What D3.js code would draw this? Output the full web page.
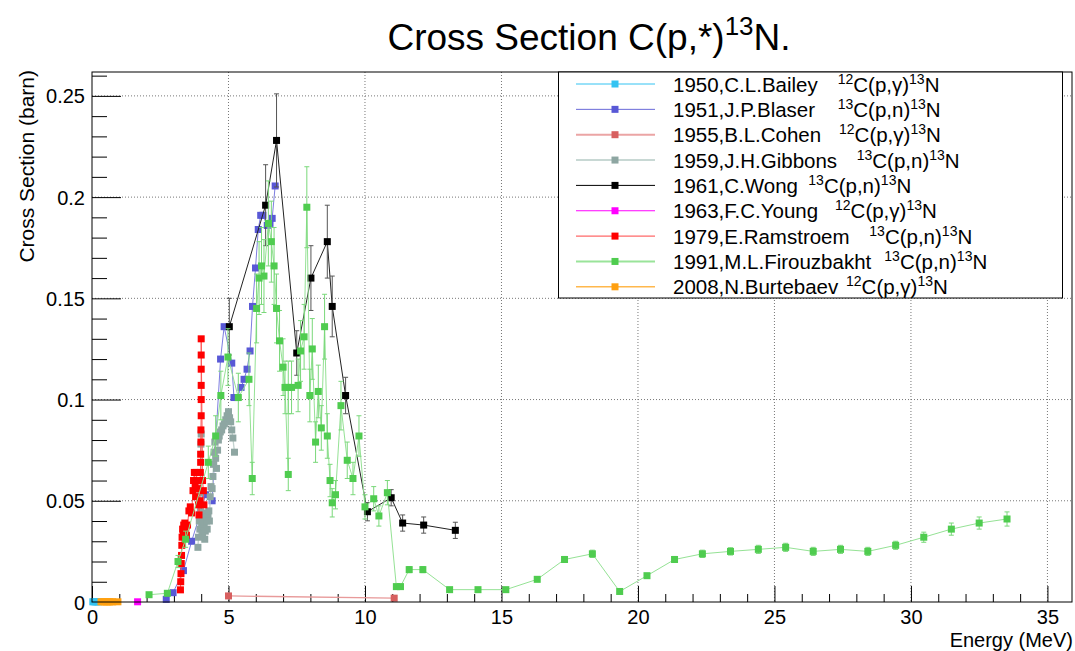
<!DOCTYPE html>
<html>
<head>
<meta charset="utf-8">
<script src="https://cdn.jsdelivr.net/npm/d3@7"></script>
<style>
  body { margin: 0; background: #fff; }
  svg { display: block; font-family: "Liberation Sans", Arial, Helvetica, sans-serif; }
</style>
</head>
<body>
<svg id="chart" width="1075" height="651"></svg>
<script>
// ---------- DATA ----------
const xTicks = [0, 5, 10, 15, 20, 25, 30, 35];
const yTicks = [0, 0.05, 0.1, 0.15, 0.2, 0.25];
const yTickLabels = ["0", "0.05", "0.1", "0.15", "0.2", "0.25"];

// [energy MeV, cross section barn]
const bailey = [[0.03, 0.0001], [0.08, 0.0001], [0.13, 0.0001], [0.18, 0.0001], [0.23, 0.0001]];
const blaser = [[2.72, 0.0013], [2.97, 0.0046], [3.35, 0.0155], [3.65, 0.030], [3.95, 0.043], [4.16, 0.053],
  [4.40, 0.050], [4.71, 0.120], [4.84, 0.136], [5.12, 0.118], [5.20, 0.101], [5.33, 0.101], [5.46, 0.106],
  [5.57, 0.110], [5.68, 0.115], [5.79, 0.124], [5.88, 0.146], [5.99, 0.165], [6.09, 0.184], [6.18, 0.191],
  [6.26, 0.191], [6.42, 0.186], [6.52, 0.187], [6.60, 0.1895], [6.71, 0.2055]];
const cohen = [[5.0, 0.0030], [11.07, 0.0019]];
const gibbons = [[3.88, 0.027], [3.90, 0.032], [3.93, 0.040], [3.95, 0.036], [3.97, 0.045], [3.98, 0.054],
  [3.99, 0.078], [4.00, 0.083], [4.02, 0.038], [4.05, 0.034], [4.08, 0.041], [4.10, 0.037], [4.13, 0.031],
  [4.15, 0.035], [4.18, 0.044], [4.20, 0.040], [4.22, 0.036], [4.25, 0.042], [4.28, 0.045], [4.30, 0.040],
  [4.33, 0.052], [4.36, 0.057], [4.40, 0.056], [4.43, 0.062], [4.45, 0.068], [4.47, 0.074], [4.50, 0.079],
  [4.53, 0.071], [4.56, 0.066], [4.60, 0.075], [4.63, 0.080], [4.66, 0.082], [4.70, 0.084], [4.75, 0.085],
  [4.80, 0.087], [4.85, 0.088], [4.90, 0.090], [4.95, 0.092], [5.00, 0.094], [5.04, 0.091], [5.08, 0.089],
  [5.12, 0.085], [5.16, 0.081], [5.22, 0.074]];
// [energy, value, error]
const wong = [[5.03, 0.136, 0.014], [6.36, 0.196, 0.020], [6.76, 0.228, 0.023], [7.50, 0.123, 0.011],
  [8.02, 0.160, 0.016], [8.62, 0.178, 0.018], [8.80, 0.146, 0.015], [9.29, 0.102, 0.009],
  [10.09, 0.0446, 0.0045], [10.96, 0.0515, 0.004], [11.38, 0.039, 0.004], [12.15, 0.038, 0.004],
  [13.31, 0.0354, 0.004]];
const young = [[1.67, 0.0001]];
const ramstroem = [[3.24, 0.006], [3.25, 0.010], [3.26, 0.014], [3.27, 0.019], [3.28, 0.023], [3.29, 0.028],
  [3.30, 0.032], [3.32, 0.036], [3.34, 0.034], [3.36, 0.038], [3.38, 0.036], [3.40, 0.039], [3.42, 0.035],
  [3.44, 0.037], [3.46, 0.033], [3.50, 0.038], [3.55, 0.045], [3.60, 0.047], [3.65, 0.044], [3.70, 0.055],
  [3.72, 0.060], [3.75, 0.064], [3.78, 0.058], [3.80, 0.052], [3.82, 0.064], [3.85, 0.060], [3.87, 0.056],
  [3.90, 0.048], [3.92, 0.043], [3.95, 0.050], [3.97, 0.064], [3.98, 0.069], [3.98, 0.073], [3.99, 0.079],
  [3.99, 0.085], [4.00, 0.092], [4.00, 0.100], [4.00, 0.107], [4.00, 0.115], [4.00, 0.122], [4.00, 0.130],
  [4.05, 0.060], [4.08, 0.055], [4.10, 0.048]];
const firouzbakht = [[2.09, 0.0036, 0.0005], [2.76, 0.0043, 0.0005], [3.15, 0.020, 0.003], [3.43, 0.031, 0.004],
  [4.26, 0.069, 0.008], [4.53, 0.082, 0.010], [4.72, 0.102, 0.012], [4.98, 0.121, 0.014], [5.36, 0.101, 0.012],
  [5.75, 0.110, 0.013], [5.87, 0.061, 0.008], [6.03, 0.145, 0.017], [6.12, 0.160, 0.018], [6.21, 0.166, 0.019],
  [6.30, 0.161, 0.018], [6.46, 0.187, 0.021], [6.57, 0.178, 0.020], [6.67, 0.166, 0.019], [6.76, 0.145, 0.017],
  [6.87, 0.129, 0.015], [7.00, 0.116, 0.014], [7.07, 0.106, 0.013], [7.19, 0.063, 0.008], [7.19, 0.106, 0.013],
  [7.31, 0.106, 0.013], [7.55, 0.107, 0.013], [7.64, 0.124, 0.015], [7.77, 0.131, 0.016], [7.87, 0.195, 0.020],
  [7.98, 0.102, 0.013], [8.07, 0.125, 0.015], [8.19, 0.079, 0.010], [8.29, 0.104, 0.013], [8.40, 0.086, 0.011],
  [8.52, 0.136, 0.016], [8.62, 0.082, 0.011], [8.72, 0.060, 0.008], [8.80, 0.049, 0.007], [8.92, 0.053, 0.007],
  [9.12, 0.097, 0.012], [9.35, 0.070, 0.009], [9.56, 0.061, 0.008], [9.78, 0.082, 0.010], [10.00, 0.047, 0.006],
  [10.32, 0.051, 0.006], [10.51, 0.0425, 0.005], [10.82, 0.054, 0.006], [11.15, 0.0076, 0.001],
  [11.30, 0.0076, 0.001], [11.62, 0.016, 0.0015], [12.12, 0.016, 0.0015], [13.10, 0.0061, 0.0008],
  [14.14, 0.0061, 0.0008], [15.16, 0.0061, 0.0008], [16.31, 0.0112, 0.001], [17.31, 0.021, 0.0015],
  [18.33, 0.0238, 0.0018], [19.33, 0.0052, 0.0008], [20.33, 0.013, 0.001], [21.34, 0.021, 0.0015],
  [22.36, 0.0238, 0.0018], [23.39, 0.025, 0.0018], [24.41, 0.026, 0.002], [25.41, 0.027, 0.002],
  [26.42, 0.025, 0.002], [27.42, 0.026, 0.002], [28.42, 0.025, 0.002], [29.44, 0.028, 0.002],
  [30.47, 0.032, 0.0025], [31.48, 0.036, 0.003], [32.50, 0.039, 0.003], [33.52, 0.041, 0.0035]];
const burtebaev = [[0.33, 0.0001], [0.40, 0.0001], [0.46, 0.0001], [0.52, 0.0001], [0.58, 0.0001],
  [0.64, 0.0001], [0.70, 0.0001], [0.76, 0.0001], [0.95, 0.0001]];

const seriesNames = ["1950,C.L.Bailey", "1951,J.P.Blaser", "1955,B.L.Cohen", "1959,J.H.Gibbons",
  "1961,C.Wong", "1963,F.C.Young", "1979,E.Ramstroem", "1991,M.L.Firouzbakht", "2008,N.Burtebaev"];
const reactions = [["12", "C(p,γ)", "13", "N"], ["13", "C(p,n)", "13", "N"], ["12", "C(p,γ)", "13", "N"],
  ["13", "C(p,n)", "13", "N"], ["13", "C(p,n)", "13", "N"], ["12", "C(p,γ)", "13", "N"],
  ["13", "C(p,n)", "13", "N"], ["13", "C(p,n)", "13", "N"], ["12", "C(p,γ)", "13", "N"]];

// ---------- STYLE ----------
const series = [
  { data: bailey, marker: "#33c3f2", line: "#33c3f2", lw: 1 },
  { data: blaser, marker: "#5858d6", line: "#7d7de0", lw: 1 },
  { data: cohen, marker: "#d75f5f", line: "#e89a9a", lw: 1.3 },
  { data: gibbons, marker: "#8ea6a2", line: "#c3d3cf", lw: 1.3 },
  { data: ramstroem, marker: "#ff0000", line: "#ff5555", lw: 1 },
  { data: wong, marker: "#000000", line: "#222222", lw: 1, err: "#555555" },
  { data: young, marker: "#ff00ff", line: "#ff00ff", lw: 1 },
  { data: firouzbakht, marker: "#4fcc4f", line: "#95e295", lw: 1, err: "#7ad87a" },
  { data: burtebaev, marker: "#ffa010", line: "#ffb84d", lw: 1 }
];
const legendStyles = [
  { marker: "#33c3f2", line: "#33c3f2", lw: 1, rx: 837.7 },
  { marker: "#5858d6", line: "#6a6ad8", lw: 1, rx: 837.7 },
  { marker: "#d75f5f", line: "#eba5a5", lw: 2, rx: 839 },
  { marker: "#8ea6a2", line: "#c8d8d4", lw: 2, rx: 856.7 },
  { marker: "#000000", line: "#000000", lw: 1, rx: 808.3 },
  { marker: "#ff00ff", line: "#ff00ff", lw: 1, rx: 835 },
  { marker: "#ff0000", line: "#ff4444", lw: 1, rx: 869.3 },
  { marker: "#4fcc4f", line: "#9ae49a", lw: 2, rx: 884.3 },
  { marker: "#ffa010", line: "#ffb84d", lw: 1.5, rx: 846 }
];

const svg = d3.select("#chart");
const L = 92, R = 1072, T = 72, B = 602;
const x = d3.scaleLinear().domain([0, 35.9]).range([L, R]);
const y = d3.scaleLinear().domain([0, 0.2618]).range([B, T]);

// grid
const grid = svg.append("g").attr("stroke", "#777").attr("stroke-width", 1).attr("stroke-dasharray", "1,2");
xTicks.filter(v => v > 0).forEach(v => grid.append("line").attr("x1", x(v)).attr("x2", x(v)).attr("y1", T).attr("y2", B));
yTicks.filter(v => v > 0).forEach(v => grid.append("line").attr("x1", L).attr("x2", R).attr("y1", y(v)).attr("y2", y(v)));

// axes
const minorX = d3.range(0, 36, 1).filter(v => v % 5 !== 0);
const minorY = d3.range(0, 0.262, 0.01).filter(v => Math.abs(v * 100 % 5) > 0.01 && Math.abs(v * 100 % 5 - 5) > 0.01);

const xAxis = svg.append("g").attr("transform", `translate(0,${B})`)
  .call(d3.axisBottom(x).tickValues(xTicks).tickSizeInner(-16).tickSizeOuter(0).tickFormat(d3.format("d")));
const xMinor = svg.append("g").attr("transform", `translate(0,${B})`)
  .call(d3.axisBottom(x).tickValues(minorX).tickSizeInner(-8).tickSizeOuter(0).tickFormat(""));
const yAxis = svg.append("g").attr("transform", `translate(${L},0)`)
  .call(d3.axisLeft(y).tickValues(yTicks).tickSizeInner(-29).tickSizeOuter(0).tickFormat((d, i) => yTickLabels[i]));
const yMinor = svg.append("g").attr("transform", `translate(${L},0)`)
  .call(d3.axisLeft(y).tickValues(minorY).tickSizeInner(-15).tickSizeOuter(0).tickFormat(""));
[xAxis, xMinor, yAxis, yMinor].forEach(g => {
  g.select(".domain").remove();
  g.selectAll("line").attr("stroke", "#000").attr("stroke-width", 1);
  g.selectAll("text").attr("font-size", 20).attr("fill", "#000").attr("font-family", "Liberation Sans, Arial, sans-serif");
});
xAxis.selectAll("text").attr("dy", "0").attr("y", 22);
yAxis.selectAll("text").attr("x", -7).attr("dy", "0.35em");

// data
const plot = svg.append("g");
const line = d3.line().x(d => x(d[0])).y(d => y(d[1]));
series.forEach(s => {
  const g = plot.append("g");
  if (s.data.length > 1) {
    g.append("path").attr("d", line(s.data)).attr("fill", "none").attr("stroke", s.line).attr("stroke-width", s.lw);
  }
  if (s.err) {
    s.data.forEach(d => {
      const cx = x(d[0]);
      const y1 = y(d[1] + d[2]), y2 = y(d[1] - d[2]);
      g.append("line").attr("x1", cx).attr("x2", cx).attr("y1", y1).attr("y2", y2).attr("stroke", s.err).attr("stroke-width", 1);
      g.append("line").attr("x1", cx - 2.5).attr("x2", cx + 2.5).attr("y1", y1).attr("y2", y1).attr("stroke", s.err).attr("stroke-width", 1);
      g.append("line").attr("x1", cx - 2.5).attr("x2", cx + 2.5).attr("y1", y2).attr("y2", y2).attr("stroke", s.err).attr("stroke-width", 1);
    });
  }
  g.selectAll("rect").data(s.data).enter().append("rect")
    .attr("x", d => x(d[0]) - 3.5).attr("y", d => y(d[1]) - 3.5)
    .attr("width", 7).attr("height", 7).attr("fill", s.marker);
});

// frame
svg.append("rect").attr("x", L).attr("y", T).attr("width", R - L).attr("height", B - T)
  .attr("fill", "none").attr("stroke", "#000").attr("stroke-width", 1);

// title
const title = svg.append("text").attr("x", 589).attr("y", 50).attr("text-anchor", "middle")
  .attr("font-size", 37).attr("fill", "#000");
title.append("tspan").text("Cross Section C(p,*)");
title.append("tspan").attr("font-size", 26).attr("dy", -15).text("13");
title.append("tspan").attr("dy", 15).text("N.");

// axis titles
svg.append("text").attr("transform", "translate(34,70) rotate(-90)").attr("text-anchor", "end")
  .attr("font-size", 21).attr("fill", "#000").text("Cross Section (barn)");
svg.append("text").attr("x", 1073).attr("y", 647).attr("text-anchor", "end")
  .attr("font-size", 20).attr("fill", "#000").text("Energy (MeV)");

// legend
const lg = svg.append("g");
lg.append("rect").attr("x", 558.5).attr("y", 72).attr("width", 504).attr("height", 226)
  .attr("fill", "#fff").attr("stroke", "#000").attr("stroke-width", 1);
const rowY = d3.range(seriesNames.length).map(i => 84 + i * 25.35);
seriesNames.forEach((name, i) => {
  const st = legendStyles[i];
  const cy = rowY[i];
  lg.append("line").attr("x1", 576).attr("x2", 655).attr("y1", cy).attr("y2", cy)
    .attr("stroke", st.line).attr("stroke-width", st.lw);
  lg.append("rect").attr("x", 615 - 3.5).attr("y", cy - 3.5).attr("width", 7).attr("height", 7).attr("fill", st.marker);
  lg.append("text").attr("x", 673).attr("y", cy + 7.5).attr("font-size", 20.5).attr("fill", "#000").text(name);
  const r = reactions[i];
  const t = lg.append("text").attr("x", st.rx).attr("y", cy + 7.5).attr("font-size", 20.5).attr("fill", "#000");
  t.append("tspan").attr("font-size", 14).attr("dy", -8).text(r[0]);
  t.append("tspan").attr("dy", 8).text(r[1]);
  t.append("tspan").attr("font-size", 14).attr("dy", -8).text(r[2]);
  t.append("tspan").attr("dy", 8).text(r[3]);
});
</script>
</body>
</html>
